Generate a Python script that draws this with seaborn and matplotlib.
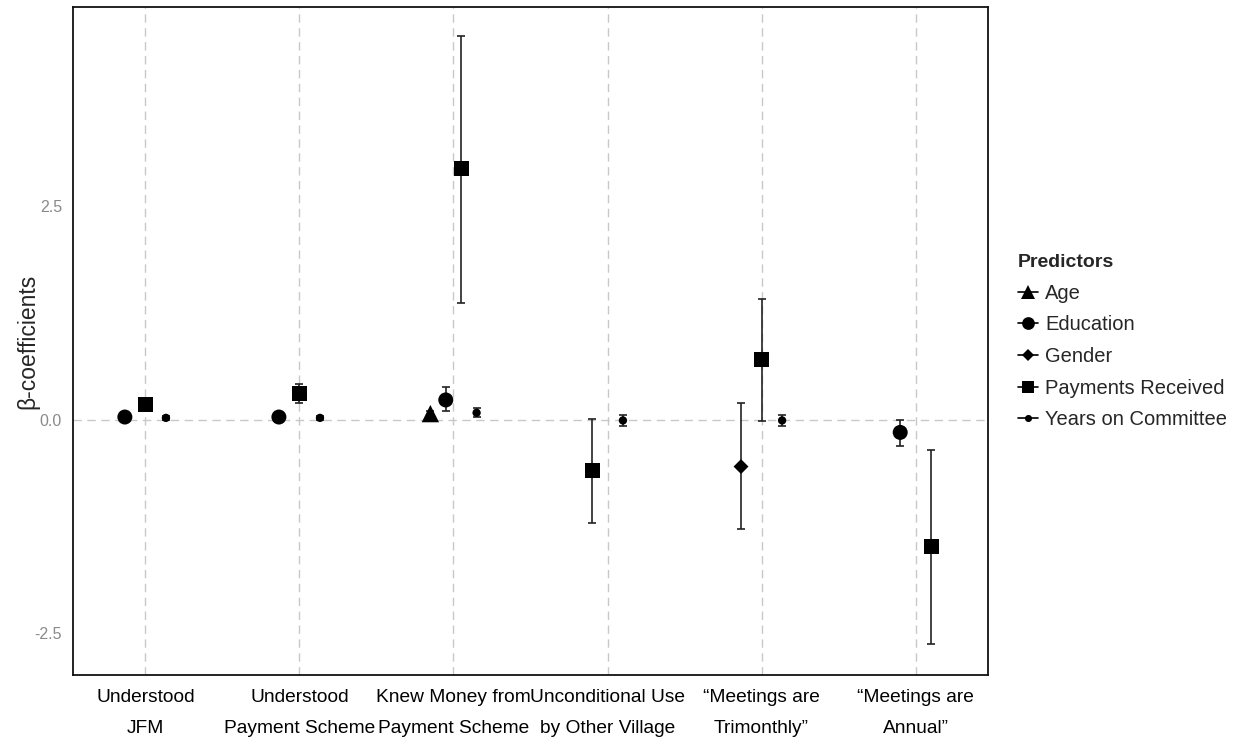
import numpy as np
import pandas as pd
import matplotlib
matplotlib.use("Agg")
import matplotlib.pyplot as plt
from matplotlib.lines import Line2D
import seaborn as sns

# ---------------- data ----------------
outcomes = ["Understood\nJFM", "Understood\nPayment Scheme", "Knew Money from\nPayment Scheme",
            "Unconditional Use\nby Other Village", "\u201cMeetings are\nTrimonthly\u201d",
            "\u201cMeetings are\nAnnual\u201d"]
predictors = ["Age", "Education", "Gender", "Payments Received", "Years on Committee"]
nan = np.nan
age_beta = [nan, nan, 0.07, nan, nan, nan]
age_lo = [nan, nan, 0.04, nan, nan, nan]
age_hi = [nan, nan, 0.10, nan, nan, nan]
edu_beta = [0.03, 0.03, 0.23, nan, nan, -0.15]
edu_lo = [0.00, 0.00, 0.10, nan, nan, -0.31]
edu_hi = [0.06, 0.06, 0.38, nan, nan, -0.01]
gen_beta = [nan, nan, nan, nan, -0.55, nan]
gen_lo = [nan, nan, nan, nan, -1.28, nan]
gen_hi = [nan, nan, nan, nan, 0.19, nan]
pay_beta = [0.18, 0.31, 2.94, -0.60, 0.70, -1.49]
pay_lo = [0.13, 0.19, 1.37, -1.21, -0.02, -2.63]
pay_hi = [0.23, 0.42, 4.49, 0.01, 1.41, -0.36]
yrs_beta = [0.02, 0.02, 0.08, -0.01, -0.01, nan]
yrs_lo = [0.00, 0.00, 0.03, -0.08, -0.08, nan]
yrs_hi = [0.04, 0.04, 0.13, 0.05, 0.05, nan]
yticks = [-2.5, 0.0, 2.5]

series = {
    "Age": (age_beta, age_lo, age_hi),
    "Education": (edu_beta, edu_lo, edu_hi),
    "Gender": (gen_beta, gen_lo, gen_hi),
    "Payments Received": (pay_beta, pay_lo, pay_hi),
    "Years on Committee": (yrs_beta, yrs_lo, yrs_hi),
}

rows = []
for p in predictors:
    b, lo, hi = series[p]
    for i, o in enumerate(outcomes):
        if not np.isnan(b[i]):
            rows.append(dict(outcome=o, oidx=i, predictor=p, beta=b[i], lo=lo[i], hi=hi[i]))
df = pd.DataFrame(rows)

# ggplot-like dodge among the predictors present in each outcome
dodge_w = 0.4
df["pidx"] = df["predictor"].map({p: k for k, p in enumerate(predictors)})
df = df.sort_values(["oidx", "pidx"]).reset_index(drop=True)
df["rank"] = df.groupby("oidx").cumcount()
df["n"] = df.groupby("oidx")["predictor"].transform("count")
df["x"] = df["oidx"] - dodge_w / 2 + dodge_w / df["n"] * (df["rank"] + 0.5)

# ---------------- style ----------------
sns.set_style("white")
plt.rcParams["font.family"] = ["Liberation Sans", "DejaVu Sans"]

markers = {"Age": "^", "Education": "o", "Gender": "D",
           "Payments Received": "s", "Years on Committee": "o"}
msize = {"Age": 12.5, "Education": 10.8, "Gender": 7.6,
         "Payments Received": 10.8, "Years on Committee": 6.0}
sizes = {k: v ** 2 for k, v in msize.items()}

fig = plt.figure(figsize=(12.36, 7.44), dpi=100)
ax = fig.add_axes([73 / 1236, 69 / 744, 915 / 1236, 668 / 744])

grid_col = "#c8c8c8"
for i in range(len(outcomes)):
    ax.axvline(i, color=grid_col, lw=1.0, ls=(0, (6, 4)), zorder=0)
ax.axhline(0, color=grid_col, lw=1.0, ls=(0, (6, 4)), zorder=0)

ax.errorbar(df["x"], df["beta"], yerr=[df["beta"] - df["lo"], df["hi"] - df["beta"]],
            fmt="none", ecolor="#222222", elinewidth=1.2, capsize=3, capthick=1.2, zorder=2)

sns.scatterplot(data=df, x="x", y="beta", style="predictor", markers=markers,
                size="predictor", sizes=sizes, color="black", edgecolor="black",
                linewidth=0, legend=False, ax=ax, zorder=3)

ax.set_xlim(-0.47, 5.47)
ax.set_ylim(-2.99, 4.83)
ax.set_xticks(range(len(outcomes)))
ax.set_xticklabels(outcomes, fontsize=13.8, color="black", linespacing=2.05)
ax.set_yticks(yticks)
ax.set_yticklabels([f"{v:.1f}" for v in yticks], fontsize=11.5, color="#8a8a8a")
ax.tick_params(axis="x", length=0, pad=10)
ax.tick_params(axis="y", length=5, width=1, color="#333333", pad=3)
ax.set_xlabel("")
ax.set_ylabel("\u03b2-coefficients", fontsize=16.5)
ax.yaxis.set_label_coords(-0.037, 0.5)
for s in ax.spines.values():
    s.set_visible(True)
    s.set_color("#111111")
    s.set_linewidth(1.3)

handles = [Line2D([0], [0], color="black", lw=1.2, marker=markers[p],
                  markersize=msize[p] * 0.85, markeredgewidth=0, label=p)
           for p in predictors]
leg = fig.legend(handles=handles, title="Predictors", loc="upper left",
                 bbox_to_anchor=(1010 / 1236, 1 - 246 / 744), frameon=False,
                 fontsize=14.5, title_fontsize=14, handlelength=1.0, handletextpad=0.35,
                 labelspacing=0.63, alignment="left", borderaxespad=0)
leg.get_title().set_fontweight("bold")

fig.savefig("out.png", dpi=100)
